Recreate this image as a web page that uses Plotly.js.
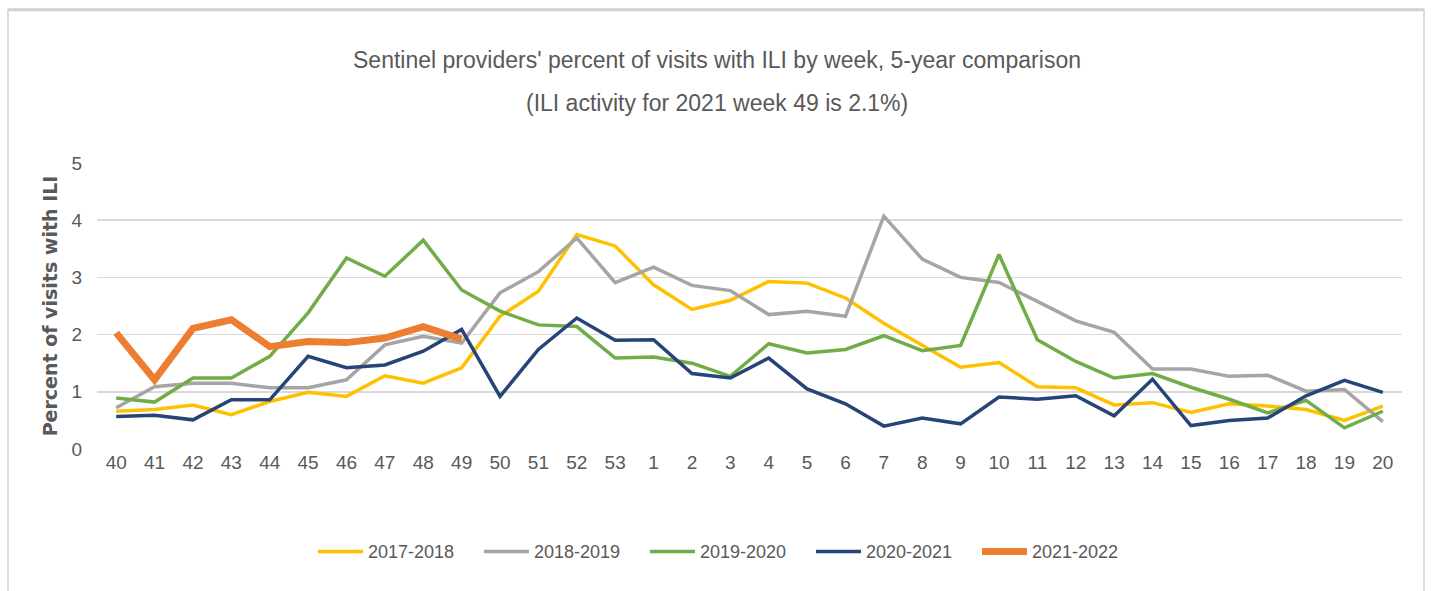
<!DOCTYPE html>
<html>
<head>
<meta charset="utf-8">
<script src="https://cdn.plot.ly/plotly-3.0.1.min.js"></script>
<style>html,body{margin:0;padding:0;background:#fff;}#chart{width:1432px;height:591px;}</style>
</head>
<body>
<div id="chart"></div>
<script>
const weeks = ['40','41','42','43','44','45','46','47','48','49','50','51','52','53','1','2','3','4','5','6','7','8','9','10','11','12','13','14','15','16','17','18','19','20'];
const s2017 = [0.66,0.69,0.77,0.60,0.83,0.99,0.92,1.28,1.15,1.42,2.32,2.76,3.75,3.55,2.87,2.44,2.60,2.93,2.90,2.64,2.20,1.82,1.43,1.51,1.09,1.07,0.77,0.81,0.64,0.79,0.75,0.69,0.50,0.75];
const s2018 = [0.72,1.09,1.15,1.15,1.07,1.07,1.21,1.82,1.97,1.85,2.73,3.10,3.69,2.91,3.18,2.86,2.77,2.35,2.41,2.32,4.07,3.32,3.00,2.91,2.58,2.24,2.04,1.40,1.40,1.27,1.29,1.01,1.04,0.48];
const s2019 = [0.89,0.82,1.24,1.24,1.62,2.38,3.34,3.02,3.65,2.78,2.41,2.17,2.14,1.59,1.61,1.50,1.27,1.84,1.68,1.74,1.98,1.72,1.81,3.40,1.91,1.53,1.24,1.32,1.08,0.87,0.63,0.85,0.37,0.66];
const s2020 = [0.57,0.59,0.51,0.86,0.86,1.62,1.42,1.47,1.71,2.09,0.92,1.74,2.29,1.90,1.91,1.32,1.24,1.59,1.05,0.79,0.40,0.54,0.44,0.91,0.87,0.93,0.58,1.22,0.41,0.50,0.54,0.93,1.20,0.99];
const s2021 = [2.03,1.21,2.11,2.26,1.79,1.88,1.86,1.94,2.14,1.92,null,null,null,null,null,null,null,null,null,null,null,null,null,null,null,null,null,null,null,null,null,null,null,null];
const seriesNames = ['2017-2018','2018-2019','2019-2020','2020-2021','2021-2022'];
const titleLine1 = "Sentinel providers' percent of visits with ILI by week, 5-year comparison";
const titleLine2 = "(ILI activity for 2021 week 49 is 2.1%)";
const yTitle = "Percent of visits with ILI";

const colors = ['#FFC000','#A5A5A5','#70AD47','#264478','#ED7D31'];
const widths = [3.5,3.5,3.5,3.5,7];
const all = [s2017,s2018,s2019,s2020,s2021];
const sans = 'Liberation Sans, Arial, sans-serif';

const traces = all.map((vals,i)=>({
  type:'scatter', mode:'lines', x:weeks, y:vals, name:seriesNames[i],
  line:{color:colors[i], width:widths[i]}, connectgaps:false, hoverinfo:'skip'
}));

const layout = {
  width:1432, height:591,
  margin:{l:97, r:30, t:163, b:142},
  paper_bgcolor:'#fff', plot_bgcolor:'#fff',
  showlegend:true,
  title:{text:titleLine1, font:{family:sans, size:23, color:'#595959'}, x:717/1432, xanchor:'center', xref:'container', yref:'container', y:1-60/591, yanchor:'middle'},
  annotations:[{text:titleLine2, xref:'paper', yref:'paper', x:(717-97)/1305, y:(449.3-103)/286, xanchor:'center', yanchor:'middle', showarrow:false, font:{family:sans, size:23, color:'#595959'}}],
  xaxis:{type:'category', range:[-0.5,33.5], showgrid:false, zeroline:false, showline:false, ticks:'', tickfont:{family:sans, size:19, color:'#595959'}, fixedrange:true},
  yaxis:{range:[0,5], dtick:1, tick0:0, showgrid:true, gridcolor:'#D9D9D9', gridwidth:1.5, zeroline:false, showline:false, ticks:'', ticklabelstandoff:14, tickfont:{family:sans, size:19, color:'#595959'},
    title:{text:yTitle, standoff:8, font:{family:'DejaVu Sans, sans-serif', size:19, weight:'bold', color:'#595959'}}, fixedrange:true},
  legend:{orientation:'h', x:(313-97)/1305, xanchor:'left', y:(449.3-552)/286, yanchor:'middle', font:{family:sans, size:18, color:'#595959'}, itemwidth:45, entrywidth:106, entrywidthmode:'pixels', bgcolor:'rgba(0,0,0,0)', traceorder:'normal'},
  shapes:[
    {type:'rect', xref:'paper', yref:'paper', x0:(8-97)/1305, x1:(1424-97)/1305, y0:(449.3-600)/286, y1:(449.3-10)/286, line:{color:'#D0D0D0', width:1.5}, fillcolor:'rgba(0,0,0,0)', layer:'below'},
    {type:'line', xref:'paper', yref:'paper', x0:(8-97)/1305, x1:(1424-97)/1305, y0:(449.3-10)/286, y1:(449.3-10)/286, line:{color:'#D0D0D0', width:3}, layer:'below'}
  ]
};
Plotly.newPlot('chart', traces, layout, {displayModeBar:false, staticPlot:true});
</script>
</body>
</html>
